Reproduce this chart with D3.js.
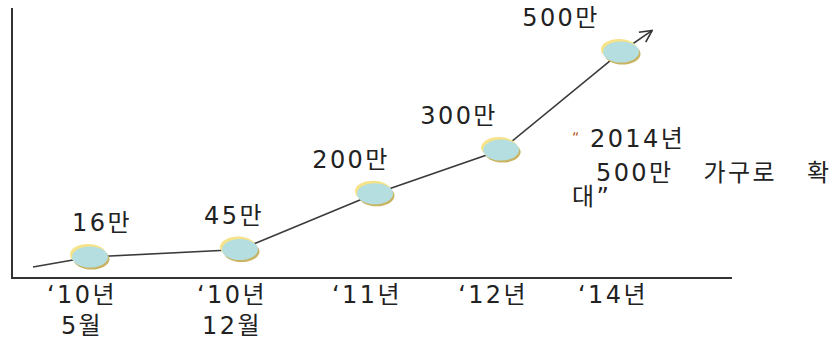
<!DOCTYPE html>
<html>
<head>
<meta charset="utf-8">
<script src="https://cdn.jsdelivr.net/npm/d3@7"></script>
<style>
  html, body { margin: 0; padding: 0; background: #fff; }
  svg text { font-family: "DejaVu Sans", "Noto Sans CJK KR", sans-serif; fill: #222; }
</style>
</head>
<body>
<svg id="chart" width="830" height="340"></svg>
<script>
// Households (만 가구) over time
const periods = ["'10년 5월", "'10년 12월", "'11년", "'12년", "'14년"];
const tickLines = [["‘10년", "5월"], ["‘10년", "12월"], ["‘11년"], ["‘12년"], ["‘14년"]];
const households = [16, 45, 200, 300, 500];
const valueLabels = ["16만", "45만", "200만", "300만", "500만"];
const noteLines = ["2014년", "500만 가구로 확", "대”"];

const svg = d3.select("#chart");
const axisColor = "#333";
const fontSize = 24;
const spacing = 2.4;

// Ordinal steps are spaced a little wider at the start, narrowing toward the end
const x = d3.scalePow().exponent(0.8).domain([1, periods.length]).range([90, 621]);
const xPos = (i) => x(i + 1);
const y = d3.scalePow().exponent(1.25).domain([16, 500]).range([257, 52]);

// Axes
svg.append("line").attr("x1", 12).attr("x2", 12).attr("y1", 8).attr("y2", 279)
  .attr("stroke", axisColor).attr("stroke-width", 2);
svg.append("line").attr("x1", 11).attr("x2", 732).attr("y1", 278).attr("y2", 278)
  .attr("stroke", axisColor).attr("stroke-width", 2);

// Growth line with a lead-in and an arrow beyond the last point
const pts = households.map((v, i) => [xPos(i), y(v)]);
const n = pts.length;
const start = [pts[0][0] - 57, pts[0][1] + 10];
const last = pts[n - 1], prev = pts[n - 2];
const end = [last[0] + (last[0] - prev[0]) * 0.26, last[1] + (last[1] - prev[1]) * 0.22];

svg.append("defs").append("marker")
  .attr("id", "arrow").attr("viewBox", "0 0 14 14").attr("refX", 13).attr("refY", 7)
  .attr("markerWidth", 14).attr("markerHeight", 14).attr("markerUnits", "userSpaceOnUse")
  .attr("orient", "auto")
  .append("path").attr("d", "M1,1 L13,7 L1,13").attr("fill", "none")
  .attr("stroke", "#333").attr("stroke-width", 1.6);

svg.append("path")
  .datum([start, ...pts, end])
  .attr("d", d3.line())
  .attr("fill", "none").attr("stroke", "#3a3a3a").attr("stroke-width", 1.6)
  .attr("marker-end", "url(#arrow)");

// Markers: yellow rim, olive shadow, teal face
const marks = svg.append("g").selectAll("g").data(households).join("g")
  .attr("transform", (d, i) => `translate(${xPos(i)},${y(d)})`);
marks.append("ellipse").attr("cx", 1.5).attr("cy", 2).attr("rx", 18).attr("ry", 10.5)
  .attr("fill", "#c9b463");
marks.append("ellipse").attr("cx", -2).attr("cy", -2.5).attr("rx", 18).attr("ry", 10.5)
  .attr("fill", "#f6e389");
marks.append("ellipse").attr("cx", 0).attr("cy", 0).attr("rx", 18).attr("ry", 10.5)
  .attr("fill", "#b4dee0");

// Value labels above the markers
svg.append("g").selectAll("text").data(households).join("text")
  .attr("x", (d, i) => xPos(i) + 12 - 18 * i)
  .attr("y", (d) => y(d) - 26)
  .attr("text-anchor", "middle")
  .attr("font-size", fontSize).attr("letter-spacing", spacing)
  .text((d, i) => valueLabels[i]);

// Period labels under the baseline
const ticks = svg.append("g").selectAll("text").data(tickLines).join("text")
  .attr("text-anchor", "middle")
  .attr("font-size", fontSize).attr("letter-spacing", spacing);
ticks.selectAll("tspan").data((d, i) => d.map((t) => ({ t, i }))).join("tspan")
  .attr("x", (d) => xPos(d.i) - 8)
  .attr("y", (d, j) => 303 + j * 31)
  .text((d) => d.t);

// Note
const note = svg.append("g");
note.append("text").attr("x", 572).attr("y", 142).attr("font-size", 14)
  .style("fill", "#b05a20").text("“");
noteLines.forEach((t, i) => {
  note.append("text")
    .attr("x", i === 2 ? 572 : (i === 0 ? 590 : 596))
    .attr("y", [147, 181, 205][i])
    .attr("font-size", fontSize).attr("letter-spacing", spacing)
    .attr("word-spacing", 20)
    .text(t);
});
</script>
</body>
</html>
